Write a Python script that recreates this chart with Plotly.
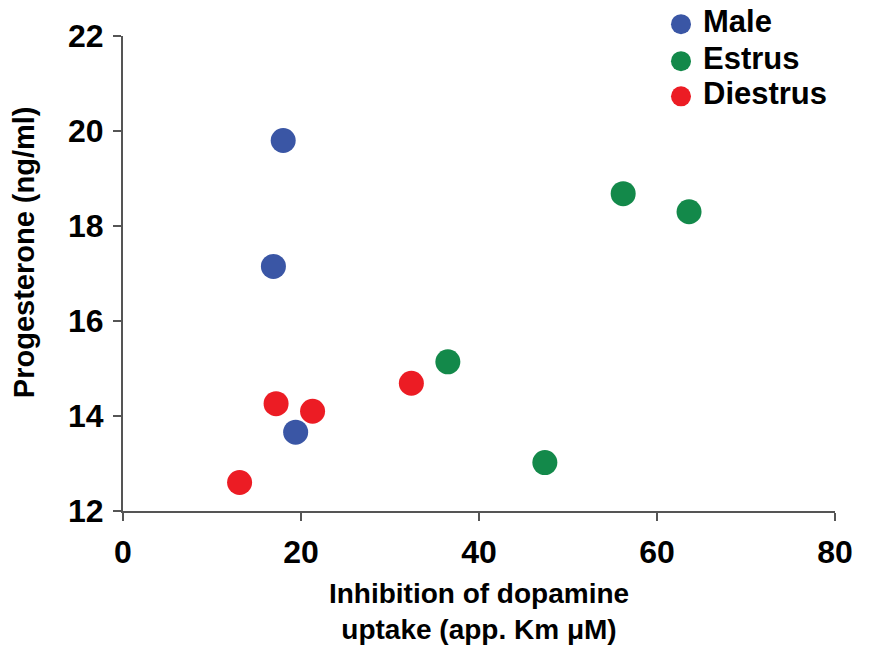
import plotly.graph_objects as go

male_x = [18.0, 16.9, 19.4]
male_y = [19.8, 17.15, 13.66]
estrus_x = [56.2, 63.6, 36.5, 47.4]
estrus_y = [18.68, 18.3, 15.14, 13.02]
diestrus_x = [13.1, 17.2, 21.3, 32.4]
diestrus_y = [12.6, 14.26, 14.1, 14.69]

series = [
    ("Male", male_x, male_y, "#3a56a5"),
    ("Estrus", estrus_x, estrus_y, "#13894a"),
    ("Diestrus", diestrus_x, diestrus_y, "#ec1c24"),
]

FONT = "Liberation Sans, Arial, sans-serif"
fig = go.Figure()
legend_y = [1.025, 0.947, 0.873]
for (name, xs, ys, col), ly in zip(series, legend_y):
    fig.add_trace(go.Scatter(x=xs, y=ys, mode="markers", name=name, showlegend=False,
                             marker=dict(size=25, color=col, line=dict(width=0))))
    fig.add_shape(type="circle", xref="paper", yref="paper", xsizemode="pixel",
                  ysizemode="pixel", xanchor=0.7837, yanchor=ly,
                  x0=-10, x1=10, y0=-10, y1=10, fillcolor=col, line=dict(width=0))
    fig.add_annotation(x=0.8118, y=ly + 0.006, xref="paper", yref="paper", text=name,
                       showarrow=False, xanchor="left", yanchor="middle",
                       font=dict(size=31, weight="bold", family=FONT, color="black"))

fig.add_annotation(x=-0.139, y=0.545, xref="paper", yref="paper",
                   text="Progesterone (ng/ml)", textangle=-90, showarrow=False,
                   xanchor="center", yanchor="middle",
                   font=dict(size=29, weight="bold", family=FONT, color="black"))

fig.update_layout(
    width=875, height=648,
    margin=dict(l=123, r=40, t=36, b=137, autoexpand=False),
    plot_bgcolor="white", paper_bgcolor="white",
    font=dict(family=FONT, color="black"),
    showlegend=False,
    xaxis=dict(range=[0, 80], tickvals=[0, 20, 40, 60, 80], showline=True,
               linecolor="#555555", linewidth=2, ticks="outside", ticklen=8,
               tickwidth=2, tickcolor="#555555", showgrid=False, zeroline=False,
               tickfont=dict(size=32, weight="bold", family=FONT),
               ticklabelstandoff=4, automargin=False,
               title=dict(text="Inhibition of dopamine<br>uptake (app. Km μM)",
                          font=dict(size=28, weight="bold", family=FONT), standoff=14)),
    yaxis=dict(range=[12, 22], tickvals=[12, 14, 16, 18, 20, 22], showline=True,
               linecolor="#555555", linewidth=2, ticks="outside", ticklen=8,
               tickwidth=2, tickcolor="#555555", showgrid=False, zeroline=False,
               tickfont=dict(size=32, weight="bold", family=FONT),
               ticklabelstandoff=3, automargin=False),
)
fig.write_html("out.html")
